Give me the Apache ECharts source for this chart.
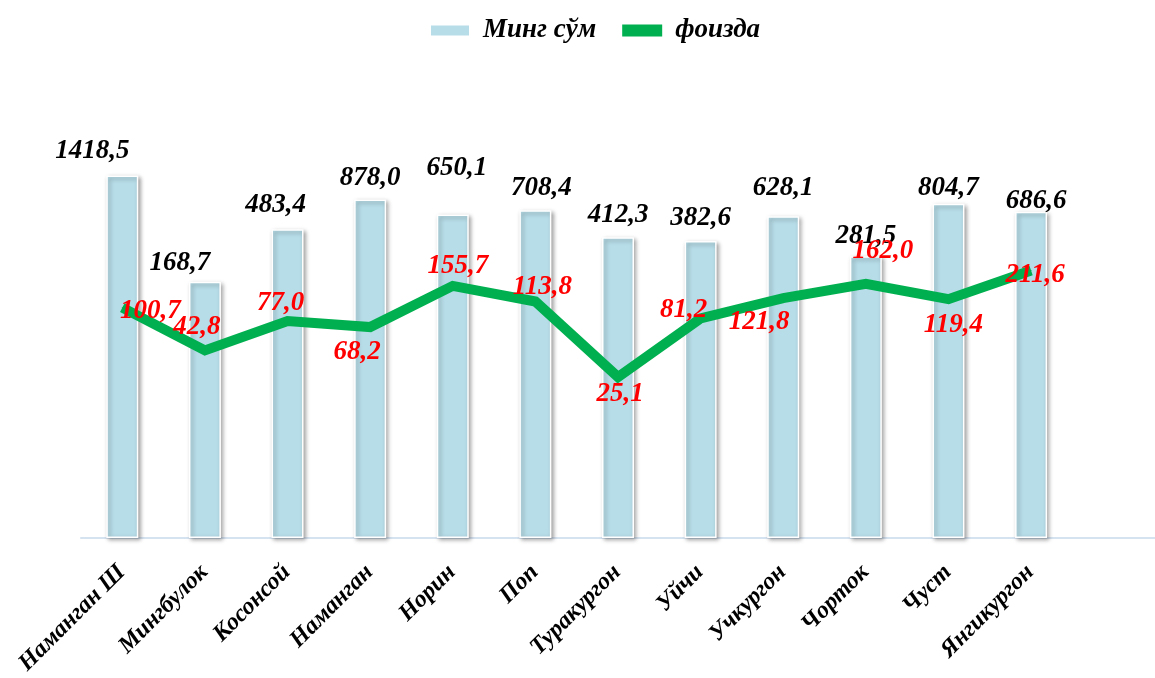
<!DOCTYPE html>
<html>
<head>
<meta charset="utf-8">
<script src="https://cdn.jsdelivr.net/npm/echarts@6/dist/echarts.min.js"></script>
<style>
html,body{margin:0;padding:0;background:#fff;}
#chart{width:1155px;height:678px;}
</style>
</head>
<body>
<div id="chart"></div>
<script>
const categories = ['Наманган Ш','Мингбулок','Косонсой','Наманган','Норин','Поп','Туракургон','Уйчи','Учкургон','Чорток','Чуст','Янгикургон'];
const sumValues = [1418.5,168.7,483.4,878.0,650.1,708.4,412.3,382.6,628.1,281.5,804.7,686.6];
const pctValues = [100.7,42.8,77.0,68.2,155.7,113.8,25.1,81.2,121.8,162.0,119.4,211.6];
const seriesNames = ['Минг сўм','фоизда'];

// label offsets (styling only)
const barLabelOffsets = [[-30,-6],[-25,0],[-12,-6],[0,-3],[4,-28],[6,-4],[0,-4],[0,-4],[0,-10],[0,-2],[0,3],[5,8]];
const lineLabelOffsets = [[28,3],[-8,-23],[-7,-18],[-13,25],[5,-20],[7,-14],[2,17],[-17,-8],[-24,24],[17,-33],[5,26],[4,4]];

const FONT = "'Times New Roman','Liberation Serif',serif";
const fmt = v => v.toFixed(1).replace('.', ',');

const cats = categories.concat(['']);
const barData = sumValues.map((v,i)=>({value:v,label:{offset:barLabelOffsets[i]}}));
const lineData = pctValues.map((v,i)=>({value:v,label:{offset:lineLabelOffsets[i]}}));

const chart = echarts.init(document.getElementById('chart'), null, {renderer:'canvas'});
chart.setOption({
  animation:false,
  backgroundColor:'#ffffff',
  legend:{
    top:12, left:424,
    itemWidth:40, itemHeight:12, itemGap:26,
    textStyle:{fontFamily:FONT,fontSize:27,fontWeight:'bold',fontStyle:'italic',color:'#000',padding:[0,0,0,8]},
    data:[{name:seriesNames[0],icon:'rect'},{name:seriesNames[1],icon:'rect'}]
  },
  grid:{left:81,right:-13,top:78,bottom:138,containLabel:false},
  xAxis:{
    type:'category',
    data:cats,
    axisLine:{lineStyle:{color:'#D5E2F0',width:2}},
    axisTick:{show:false},
    axisLabel:{rotate:45,margin:30,interval:0,padding:[0,1,0,0],fontFamily:FONT,fontSize:24,fontWeight:'bold',fontStyle:'italic',color:'#000'}
  },
  yAxis:{
    type:'log',logBase:10,min:1,max:10000,
    show:false,
    splitLine:{show:false}
  },
  series:[
    {
      name:seriesNames[0],
      type:'bar',
      barWidth:32,
      data:barData,
      itemStyle:{color:'#B7DDE8',borderColor:'#ffffff',borderWidth:1.5,
        shadowColor:'rgba(0,0,0,0.35)',shadowBlur:4,shadowOffsetX:2,shadowOffsetY:2},
      label:{show:true,position:'top',distance:5,formatter:p=>fmt(p.value),
        fontFamily:FONT,fontSize:27,fontWeight:'bold',fontStyle:'italic',color:'#000'},
      z:2
    },
    {
      name:seriesNames[1],
      type:'line',
      data:lineData,
      symbol:'circle',symbolSize:1,showSymbol:true,
      lineStyle:{color:'#00B050',width:10,join:'miter'},
      itemStyle:{color:'#00B050'},
      label:{show:true,position:'inside',formatter:p=>fmt(p.value),
        fontFamily:FONT,fontSize:27,fontWeight:'bold',fontStyle:'italic',color:'#FF0000'},
      z:3
    }
  ]
});
</script>
</body>
</html>
